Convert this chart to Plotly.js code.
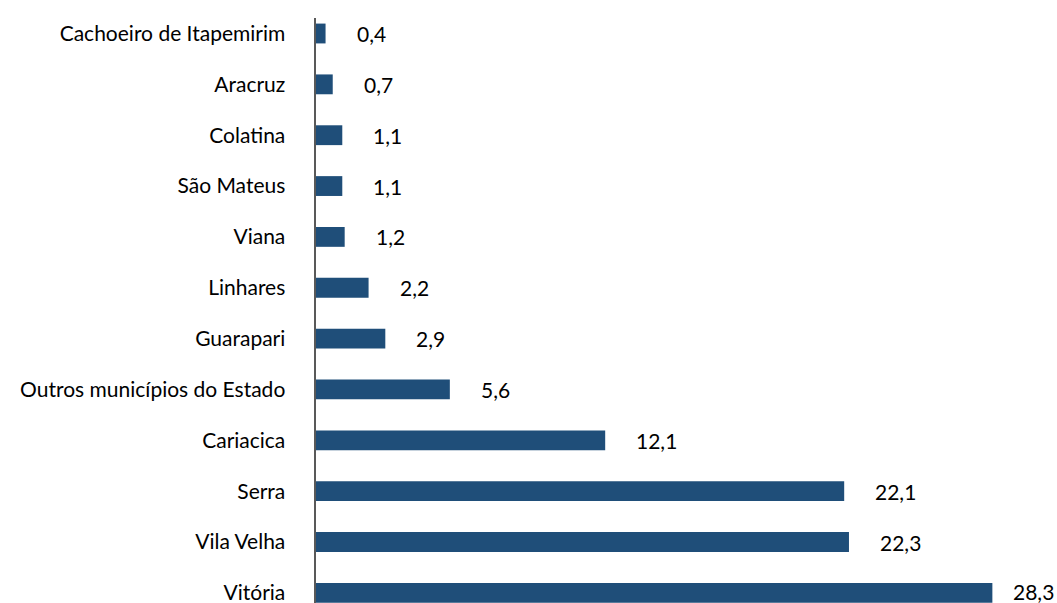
<!DOCTYPE html>
<html>
<head>
<meta charset="utf-8">
<script src="https://cdn.plot.ly/plotly-3.0.1.min.js"></script>
<style>html,body{margin:0;padding:0;background:#fff;}#chart{width:1057px;height:603px;}</style>
</head>
<body>
<div id="chart"></div>
<script>
const categories = ["Cachoeiro de Itapemirim","Aracruz","Colatina","São Mateus","Viana","Linhares","Guarapari","Outros municípios do Estado","Cariacica","Serra","Vila Velha","Vitória"];
const values = [0.4,0.7,1.1,1.1,1.2,2.2,2.9,5.6,12.1,22.1,22.3,28.3];
const valueLabels = ["0,4","0,7","1,1","1,1","1,2","2,2","2,9","5,6","12,1","22,1","22,3","28,3"];

const W = 1057, H = 603;
const mL = 316, mR = 0, mT = 18, mB = 0;
const xMax = (W - mL - mR) / 23.9;
const rowPx = 50.85;
const yTop = -(33.5 - mT) / rowPx;
const yBot = (H - mB - 33.5) / rowPx;
const font = "Lato, 'Open Sans', sans-serif";
const fsize = 21;

const annotations = values.map((v, i) => {
  const px = mL + v * 23.9 + 29;
  const overflow = px + 46 > W;
  return overflow
    ? {xref: 'paper', yref: 'y', x: 1, y: categories[i], text: valueLabels[i], showarrow: false, xanchor: 'right', xshift: -1, yshift: 1, font: {family: font, size: fsize, color: '#000'}}
    : {xref: 'x', yref: 'y', x: v, y: categories[i], text: valueLabels[i], showarrow: false, xanchor: 'left', xshift: 29, font: {family: font, size: fsize, color: '#000'}};
});

Plotly.newPlot('chart', [{
  type: 'bar',
  orientation: 'h',
  y: categories,
  x: values,
  marker: {color: '#1F4E79'},
  width: 0.39,
  hoverinfo: 'none'
}], {
  width: W, height: H,
  margin: {l: mL, r: mR, t: mT, b: mB, pad: 0},
  paper_bgcolor: '#fff', plot_bgcolor: '#fff',
  showlegend: false,
  xaxis: {range: [0, xMax], visible: false, fixedrange: true},
  yaxis: {
    type: 'category',
    range: [yBot, yTop],
    showline: true, linecolor: '#595959', linewidth: 2.5,
    showgrid: false, zeroline: false, ticks: '',
    ticklabelstandoff: 24,
    tickfont: {family: font, size: fsize, color: '#000'},
    fixedrange: true
  },
  annotations: annotations
}, {displayModeBar: false, staticPlot: true});
</script>
</body>
</html>
